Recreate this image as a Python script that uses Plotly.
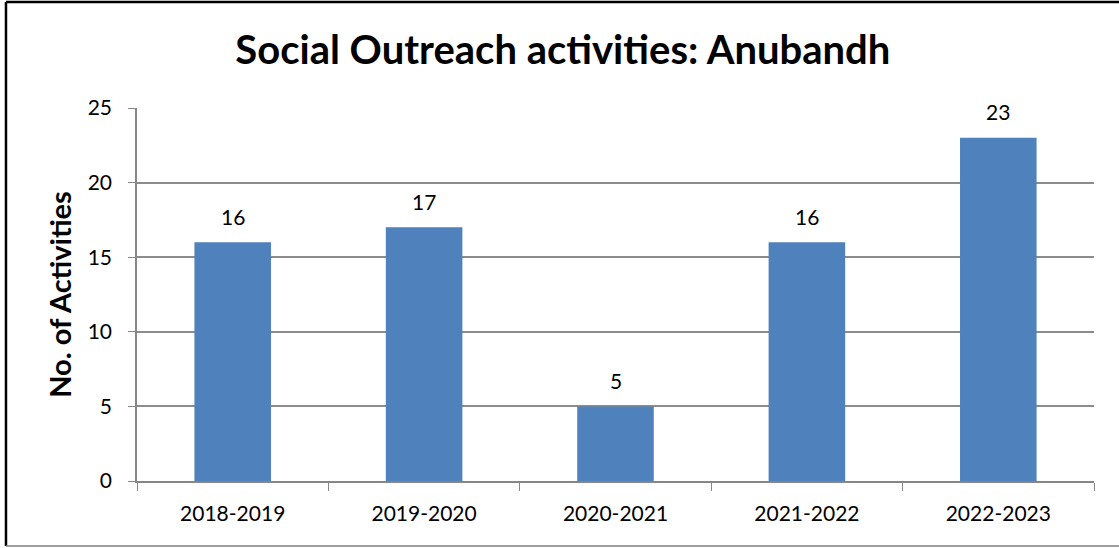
import plotly.graph_objects as go

categories = ["2018-2019", "2019-2020", "2020-2021", "2021-2022", "2022-2023"]
values = [16, 17, 5, 16, 23]
title_text = "Social Outreach activities: Anubandh"
y_title = "No. of Activities"

FONT = "Lato"
fig = go.Figure()
fig.add_trace(go.Bar(
    x=categories, y=values,
    marker=dict(color="#4F81BD", line=dict(width=0)),
    width=0.4,
))
for c, v in zip(categories, values):
    fig.add_annotation(x=c, y=v, text=str(v), showarrow=False, yshift=26,
                       font=dict(family=FONT, size=21, color="#000000"))

fig.update_layout(
    width=1119, height=548,
    margin=dict(l=137, r=25, t=108, b=67),
    paper_bgcolor="white", plot_bgcolor="white",
    showlegend=False,
    title=dict(text="<b>" + title_text + "</b>", x=0.503, xanchor="center",
               y=0.909, yanchor="middle",
               font=dict(family=FONT, size=40, color="#000000")),
)
fig.update_xaxes(
    type="category", tickson="boundaries", ticks="outside", ticklen=8,
    tickcolor="#868686", showline=True, linecolor="#868686", linewidth=1.5,
    showgrid=False, ticklabelstandoff=13,
    tickfont=dict(family=FONT, size=21, color="#000000"),
)
fig.update_yaxes(
    range=[0, 25], tickvals=[0, 5, 10, 15, 20, 25], ticks="outside", ticklen=7,
    tickcolor="#868686", showline=True, linecolor="#868686", linewidth=1.5,
    showgrid=True, gridcolor="#8C8C8C", gridwidth=1.5, zeroline=False,
    ticklabelstandoff=12,
    tickfont=dict(family=FONT, size=21, color="#000000"),
    title=dict(text="<b>" + y_title + "</b>", standoff=8,
               font=dict(family=FONT, size=29, color="#000000")),
)
fig.add_shape(type="line", xref="paper", yref="paper", x0=-0.1369, x1=-0.1369,
              y0=-0.1743, y1=1.2842, line=dict(color="black", width=2.5))
fig.add_shape(type="line", xref="paper", yref="paper", x0=-0.1369, x1=1.05,
              y0=1.2842, y1=1.2842, line=dict(color="black", width=2.5))
fig.add_shape(type="line", xref="paper", yref="paper", x0=-0.1369, x1=1.05,
              y0=-0.1743, y1=-0.1743, line=dict(color="#808080", width=1.5))
fig.write_html("out.html", config={"displayModeBar": False},
               post_script="document.body.style.margin='0';document.body.style.overflow='hidden';")
